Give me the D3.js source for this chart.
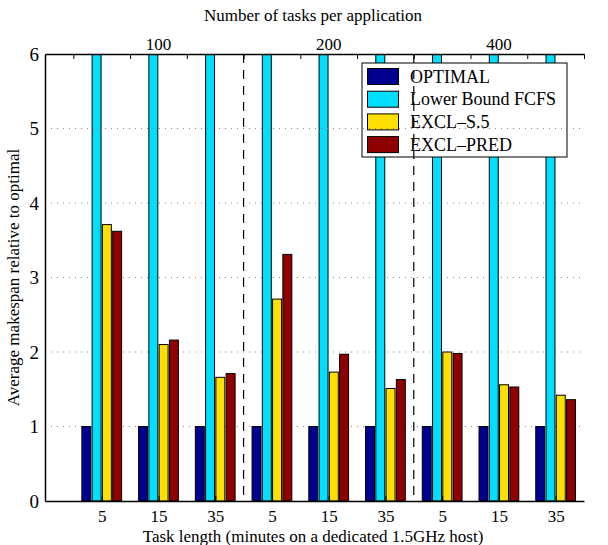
<!DOCTYPE html>
<html><head><meta charset="utf-8">
<script src="https://cdn.jsdelivr.net/npm/d3@7"></script>
<style>body{margin:0;background:#fff}svg{display:block}svg text{font-family:"Liberation Serif","Times New Roman",serif !important;fill:#000}</style>
</head><body>
<script>
const taskLengths = ["5","15","35","5","15","35","5","15","35"];
const taskCounts = ["100","200","400"];
const seriesNames = ["OPTIMAL","Lower Bound FCFS","EXCL\u2013S.5","EXCL\u2013PRED"];
const seriesColors = ["#00008f","#00dfff","#ffdf00","#8f0000"];
const optimal   = [1,1,1,1,1,1,1,1,1];
const lowerFCFS = [8,8,8,8,8,8,8,8,8];
const exclS5    = [3.71,2.10,1.66,2.71,1.73,1.51,2.00,1.56,1.42];
const exclPred  = [3.62,2.16,1.71,3.31,1.97,1.63,1.98,1.53,1.36];
const yTicks = [0,1,2,3,4,5,6];

const W=608,H=545, L=45, R=584, T=54, B=501;
const svg=d3.select("body").append("svg").attr("width",W).attr("height",H);
const x=d3.scaleLinear().domain([0,9.5]).range([L,R]);
const y=d3.scaleLinear().domain([0,6]).range([B,T]);
const series=[optimal,lowerFCFS,exclS5,exclPred];

svg.append("clipPath").attr("id","c").append("rect").attr("x",L).attr("y",T).attr("width",R-L).attr("height",B-T);

// grid
svg.append("g").selectAll("line").data(yTicks.filter(d=>d>0&&d<6)).join("line")
 .attr("x1",L).attr("x2",R).attr("y1",d=>y(d)).attr("y2",d=>y(d))
 .attr("stroke","#888").attr("stroke-width",1).attr("stroke-dasharray","1,5");

// bars
const pitch=0.181, bw=0.158;
const gb=svg.append("g").attr("clip-path","url(#c)");
series.forEach((s,k)=>{
  gb.selectAll(null).data(s).join("rect")
   .attr("x",(d,i)=>x(i+1+(k-1.5)*pitch-bw/2))
   .attr("width",x(bw)-x(0))
   .attr("y",d=>y(d)).attr("height",d=>y(0)-y(d))
   .attr("fill",seriesColors[k]).attr("stroke","#000").attr("stroke-width",1);
});

// legend
const lg=svg.append("g");
lg.append("rect").attr("x",362).attr("y",63).attr("width",205).attr("height",94).attr("fill","#fff").attr("stroke","#000").attr("stroke-width",1);
seriesNames.forEach((n,k)=>{
  const cy=76.5+k*22.7;
  lg.append("rect").attr("x",367.5).attr("y",cy-8).attr("width",31).attr("height",16).attr("fill",seriesColors[k]).attr("stroke","#000");
  lg.append("text").attr("x",410).attr("y",cy+6).attr("font-size",18).text(n);
});

// gridline over legend (as in reference)
svg.append("line").attr("x1",L).attr("x2",R).attr("y1",y(5)).attr("y2",y(5))
 .attr("stroke","#888").attr("stroke-dasharray","1,5");

// dashed separators
svg.append("g").selectAll("line").data([3.5,6.5]).join("line")
 .attr("x1",d=>x(d)).attr("x2",d=>x(d)).attr("y1",T).attr("y2",B)
 .attr("stroke","#000").attr("stroke-width",1.2).attr("stroke-dasharray","9,7");

// axes
const xb=d3.axisBottom(x).tickValues(d3.range(1,10)).tickSize(-5).tickSizeOuter(0).tickPadding(9).tickFormat((d,i)=>taskLengths[i]);
const gx=svg.append("g").attr("transform",`translate(0,${B})`).call(xb);
gx.selectAll("text").attr("font-size",17);
const xt=d3.axisTop(x).tickValues(d3.range(0.5,10,1)).tickSize(-5).tickSizeOuter(0).tickFormat("");
svg.append("g").attr("transform",`translate(0,${T})`).call(xt);
const yl=d3.axisLeft(y).tickValues(yTicks).tickSize(0).tickPadding(6).tickFormat(d3.format("d"));
const gy=svg.append("g").attr("transform",`translate(${L},0)`).call(yl);
gy.selectAll("text").attr("font-size",19);
svg.selectAll(".domain").attr("stroke","#000").attr("stroke-width",1.5);
svg.selectAll(".tick line").attr("stroke","#000");

// top category labels
svg.append("g").selectAll("text").data(taskCounts).join("text")
 .attr("x",(d,i)=>x(2+3*i)).attr("y",50).attr("text-anchor","middle").attr("font-size",17).text(d=>d);

svg.append("text").attr("x",313).attr("y",21).attr("text-anchor","middle").attr("font-size",17).text("Number of tasks per application");
svg.append("text").attr("x",313).attr("y",542).attr("text-anchor","middle").attr("font-size",17).text("Task length (minutes on a dedicated 1.5GHz host)");
svg.append("text").attr("transform",`translate(19,${(T+B)/2}) rotate(-90)`).attr("text-anchor","middle").attr("font-size",17).text("Average makespan relative to optimal");
</script>
</body></html>
